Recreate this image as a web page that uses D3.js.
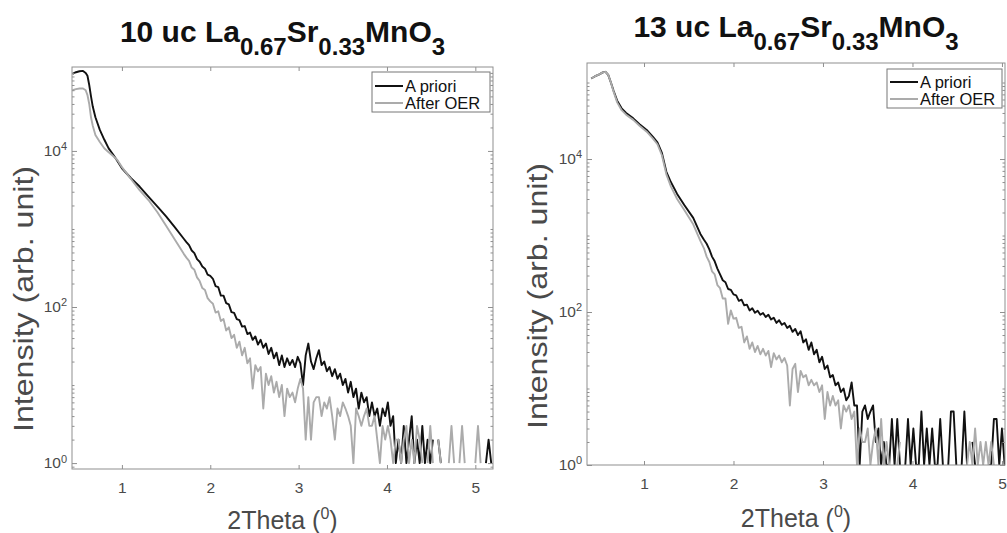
<!DOCTYPE html>
<html>
<head>
<meta charset="utf-8">
<script src="https://cdn.jsdelivr.net/npm/d3@7"></script>
<style>
  body { margin: 0; background: #fff; }
  text { font-family: "Liberation Sans", Arial, Helvetica, sans-serif; }
</style>
</head>
<body>
<div id="chart"></div>
<script>
// ---- data ----
var seriesNames = ["A priori", "After OER"];
var xTicks = [1, 2, 3, 4, 5];
var yTicks = [1, 100, 10000];

// 10 uc film
var theta10 = [0.44,0.48,0.52,0.56,0.59,0.61,0.63,0.65,0.67,0.70,0.75,0.80,0.85,0.90,0.95,1.00,1.10,1.20,1.30,1.40,1.50,1.60,1.70,
  1.73,1.76,1.79,1.82,1.85,1.88,1.91,1.94,1.97,2.00,
  2.03,2.06,2.09,2.12,2.15,2.18,2.21,2.24,2.27,2.30,
  2.33,2.36,2.39,2.42,2.45,2.48,2.51,2.54,2.57,2.60,
  2.63,2.66,2.69,2.72,2.75,2.78,2.81,2.84,2.87,2.90,
  2.93,2.96,2.99,3.02,3.05,3.08,3.11,3.14,3.17,3.20,
  3.23,3.26,3.29,3.32,3.35,3.38,3.41,3.44,3.47,3.50,
  3.53,3.56,3.59,3.62,3.65,3.68,3.71,3.74,3.77,3.80,
  3.83,3.86,3.89,3.92,3.95,3.98,4.01,4.04,4.07,4.10,
  4.13,4.16,4.19,4.22,4.25,4.28,4.31,4.34,4.37,4.40,
  4.43,4.46,4.49,4.52,4.55,4.58,4.61,4.64,4.67,4.70,
  4.73,4.76,4.79,4.82,4.85,4.88,4.91,4.94,4.97,5.00,
  5.03,5.06,5.09,5.12,5.15,5.18];
var apriori10 = [97000,102000,105000,106000,100000,92000,70000,50000,37000,27000,18600,14000,10800,9000,7400,6000,4500,3500,2600,1950,1450,1050,750,
  680,620,530,490,410,380,330,310,260,250,
  230,185,180,140,140,112,108,86,84,70,
  68,56,57,45,47,38,42,33,38,30,
  34,25,30,22,26,18,24,17,22,18,
  21,17,23,19,10,24,34,20,16,22,
  28,18,20,15,17,13,16,12,14,10,
  12,8,11,7,9,5,8,6,7,4,
  6,4,5,3,5,4,6,3,4,1,
  2,1,3,1,2,4,1,2,1,3,
  1,2,1,2,0,2,1,0,2,0,
  0,0,0,0,0,0,0,0,0,0,
  0,0,0,1,2,1];
var afterOER10 = [60000,62000,63000,63000,60000,52000,40000,27000,21000,16000,13000,10800,9600,8600,7600,6200,4400,3150,2350,1650,1100,730,480,
  430,390,320,300,240,215,175,165,130,118,
  110,85,88,66,70,50,55,40,44,30,
  36,24,30,19,22,9,18,15,17,5,
  14,10,13,8,11,7,10,4,9,7,
  8,6,9,12,9,2,7,2,6,7,
  7,4,6,5,7,4,2,5,4,6,
  5,4,3,1,5,4,3,4,5,3,
  3,4,2,1,3,2,3,2,1,2,
  2,1,2,3,1,2,1,3,2,1,
  0,1,3,1,0,2,1,0,0,1,
  3,1,0,1,3,1,0,0,0,1,
  3,1,0,0,0,0];

// 13 uc film
var theta13 = [0.41,0.45,0.50,0.54,0.57,0.60,0.63,0.66,0.70,0.75,0.80,0.88,0.95,1.03,1.10,1.15,1.20,1.25,1.30,1.37,1.45,1.55,1.63,
  1.67,1.70,1.73,1.76,1.79,1.82,1.85,1.88,1.91,1.94,
  1.97,2.00,2.03,2.06,2.09,2.12,2.15,2.18,2.21,2.24,
  2.27,2.30,2.33,2.36,2.39,2.42,2.45,2.48,2.51,2.54,
  2.57,2.60,2.63,2.66,2.69,2.72,2.75,2.78,2.81,2.84,
  2.87,2.90,2.93,2.96,2.99,3.02,3.05,3.08,3.11,3.14,
  3.17,3.20,3.23,3.26,3.29,3.32,3.35,3.38,3.41,3.44,
  3.47,3.50,3.53,3.56,3.59,3.62,3.65,3.68,3.71,3.74,
  3.77,3.80,3.83,3.86,3.89,3.92,3.95,3.98,4.01,4.04,
  4.07,4.10,4.13,4.16,4.19,4.22,4.25,4.28,4.31,4.34,
  4.37,4.40,4.43,4.46,4.49,4.52,4.55,4.58,4.61,4.64,
  4.67,4.70,4.73,4.76,4.79,4.82,4.85,4.88,4.91,4.94,
  4.97,5.00,5.03];
var apriori13 = [113000,120000,128000,136000,138000,126000,100000,78000,58000,46000,40000,34000,28500,24000,19500,16500,12000,6800,5000,3500,2500,1700,1050,
  880,780,660,530,460,370,310,260,245,200,
  195,170,165,140,145,122,125,105,112,98,
  104,92,97,86,92,80,84,72,78,68,
  72,62,66,55,60,50,56,40,44,32,
  40,28,32,22,26,18,20,14,15,11,
  12,9,10,7,8,12,6,6,1,5,
  6,4,5,6,2,3,1,2,1,1,
  4,1,4,1,0,1,4,1,3,1,
  1,5,1,3,1,3,1,1,4,1,
  0,1,5,5,1,0,1,5,1,0,
  2,1,0,0,0,0,1,1,4,4,
  1,3,1];
var afterOER13 = [113000,120000,128000,136000,138000,126000,100000,76000,55000,43500,38000,32500,27200,22800,18500,15600,11200,6300,4400,3000,2150,1400,850,
  680,530,450,340,310,225,205,150,150,70,
  105,82,84,62,64,40,48,33,40,30,
  36,28,33,27,31,19,29,24,27,22,
  25,20,6,18,21,9,17,14,15,11,
  13,11,12,9,11,4,9,6,8,6,
  7,3,6,5,6,4,5,1,3,2,
  2,3,1,2,3,1,4,1,2,1,
  0,0,1,2,0,0,0,0,0,0,
  0,0,0,0,0,0,0,0,0,0,
  0,0,0,0,0,0,0,0,1,2,
  1,3,1,2,1,2,1,2,1,0,
  0,0,0];

// ---- layout ----
var svgWidth = 1007;
var svgHeight = 533;
var axisColor = "#8f8f8f";
var labelColor = "#4a4a4a";
var colorA = "#111111";
var colorB = "#ababab";

var panels = [
  {id: "p10", layers: "10", left: 72, right: 493, top: 67, bottom: 469,
   xDomain: [0.435, 5.2], yDomain: [0.84, 119000],
   theta: theta10, a: apriori10, b: afterOER10,
   titleY: 42, xLabelY: 529, yLabelX: 33, yLabelY: 299,
   legend: {x: 372, y: 72, w: 118, h: 40, line1: 86}},
  {id: "p13", layers: "13", left: 587, right: 1005, top: 63, bottom: 465,
   xDomain: [0.363, 5.034], yDomain: [1, 180000],
   theta: theta13, a: apriori13, b: afterOER13,
   titleY: 37, xLabelY: 527, yLabelX: 547, yLabelY: 296,
   legend: {x: 887, y: 69, w: 115, h: 39, line1: 82}}
];

var svg = d3.select("#chart")
    .append("svg")
    .attr("width", svgWidth)
    .attr("height", svgHeight)
    .style("background", "#fff");

panels.forEach(function(p) {
  var x = d3.scaleLinear().domain(p.xDomain).range([p.left, p.right]);
  var y = d3.scaleLog().domain(p.yDomain).range([p.bottom, p.top]);
  var g = svg.append("g");

  svg.append("clipPath").attr("id", "clip-" + p.id)
    .append("rect")
    .attr("x", p.left).attr("y", p.top)
    .attr("width", p.right - p.left).attr("height", p.bottom - p.top);

  var rows = p.theta.map(function(t, i) {
    return {t: t, a: p.a[i], b: p.b[i]};
  });

  var lineA = d3.line().defined(d => d.a > 0).x(d => x(d.t)).y(d => y(d.a));
  var lineB = d3.line().defined(d => d.b > 0).x(d => x(d.t)).y(d => y(d.b));

  g.append("path").datum(rows)
    .attr("d", lineA)
    .attr("fill", "none")
    .attr("stroke", colorA)
    .attr("stroke-width", 1.9)
    .attr("stroke-linejoin", "round")
    .attr("clip-path", "url(#clip-" + p.id + ")");

  g.append("path").datum(rows)
    .attr("d", lineB)
    .attr("fill", "none")
    .attr("stroke", colorB)
    .attr("stroke-width", 1.9)
    .attr("stroke-linejoin", "round")
    .attr("clip-path", "url(#clip-" + p.id + ")");

  // axes, ticks pointing inward like matlab
  var minor = y.ticks().filter(v => yTicks.indexOf(v) < 0);

  var xb = g.append("g").attr("transform", `translate(0,${p.bottom})`)
    .call(d3.axisBottom(x).tickValues(xTicks).tickSize(-4).tickPadding(13).tickFormat(d3.format("d")));
  var xt = g.append("g").attr("transform", `translate(0,${p.top})`)
    .call(d3.axisTop(x).tickValues(xTicks).tickSize(-4).tickFormat(""));
  var yl = g.append("g").attr("transform", `translate(${p.left},0)`)
    .call(d3.axisLeft(y).tickValues(yTicks).tickSize(-5).tickFormat(""));
  var yr = g.append("g").attr("transform", `translate(${p.right},0)`)
    .call(d3.axisRight(y).tickValues(yTicks).tickSize(-5).tickFormat(""));
  var ylm = g.append("g").attr("transform", `translate(${p.left},0)`)
    .call(d3.axisLeft(y).tickValues(minor).tickSize(-2.5).tickFormat(""));
  var yrm = g.append("g").attr("transform", `translate(${p.right},0)`)
    .call(d3.axisRight(y).tickValues(minor).tickSize(-2.5).tickFormat(""));

  [xb, xt, yl, yr, ylm, yrm].forEach(function(a) {
    a.select(".domain").remove();
    a.selectAll(".tick line").attr("stroke", axisColor);
  });
  xb.selectAll(".tick text").attr("fill", labelColor).attr("font-size", 15.5)
    .style("font-family", "'Liberation Sans', Arial, sans-serif");

  g.append("rect")
    .attr("x", p.left).attr("y", p.top)
    .attr("width", p.right - p.left).attr("height", p.bottom - p.top)
    .attr("fill", "none").attr("stroke", axisColor).attr("stroke-width", 1);

  // y tick labels 10^n
  yTicks.forEach(function(v) {
    var t = g.append("text")
      .attr("x", p.left - 5).attr("y", y(v)).attr("dy", "0.32em")
      .attr("text-anchor", "end").attr("fill", labelColor).attr("font-size", 15.5);
    t.append("tspan").text("10");
    t.append("tspan").attr("dy", "-0.5em").attr("font-size", 11).text(Math.round(Math.log10(v)));
  });

  // title with subscripts
  var cx = (p.left + p.right) / 2;
  var title = g.append("text").attr("x", cx).attr("y", p.titleY)
    .attr("text-anchor", "middle").attr("font-weight", "bold")
    .attr("font-size", 30).attr("fill", "#111");
  title.append("tspan").text(p.layers + " uc La");
  title.append("tspan").attr("dy", 13).attr("font-size", 24).text("0.67");
  title.append("tspan").attr("dy", -13).text("Sr");
  title.append("tspan").attr("dy", 13).attr("font-size", 24).text("0.33");
  title.append("tspan").attr("dy", -13).text("MnO");
  title.append("tspan").attr("dy", 13).attr("font-size", 24).text("3");

  // x label
  var xl = g.append("text").attr("x", cx).attr("y", p.xLabelY)
    .attr("text-anchor", "middle").attr("font-size", 25).attr("fill", labelColor);
  xl.append("tspan").text("2Theta (");
  xl.append("tspan").attr("dy", -10).attr("font-size", 16).text("0");
  xl.append("tspan").attr("dy", 10).text(")");

  // y label
  g.append("text")
    .attr("transform", `translate(${p.yLabelX},${p.yLabelY}) rotate(-90)`)
    .attr("text-anchor", "middle").attr("font-size", 27).attr("fill", labelColor)
    .attr("textLength", 266).attr("lengthAdjust", "spacingAndGlyphs")
    .text("Intensity (arb. unit)");

  // legend
  var L = p.legend;
  var lg = g.append("g");
  lg.append("rect").attr("x", L.x).attr("y", L.y).attr("width", L.w).attr("height", L.h)
    .attr("fill", "#fff").attr("stroke", "#777").attr("stroke-width", 1);
  [colorA, colorB].forEach(function(c, i) {
    var ly = L.line1 + i * 17;
    lg.append("line").attr("x1", L.x + 3).attr("x2", L.x + 31).attr("y1", ly).attr("y2", ly)
      .attr("stroke", c).attr("stroke-width", 2);
    lg.append("text").attr("x", L.x + 33).attr("y", ly + 6)
      .attr("font-size", 16.5).attr("fill", "#111").text(seriesNames[i]);
  });
});
</script>
</body>
</html>
